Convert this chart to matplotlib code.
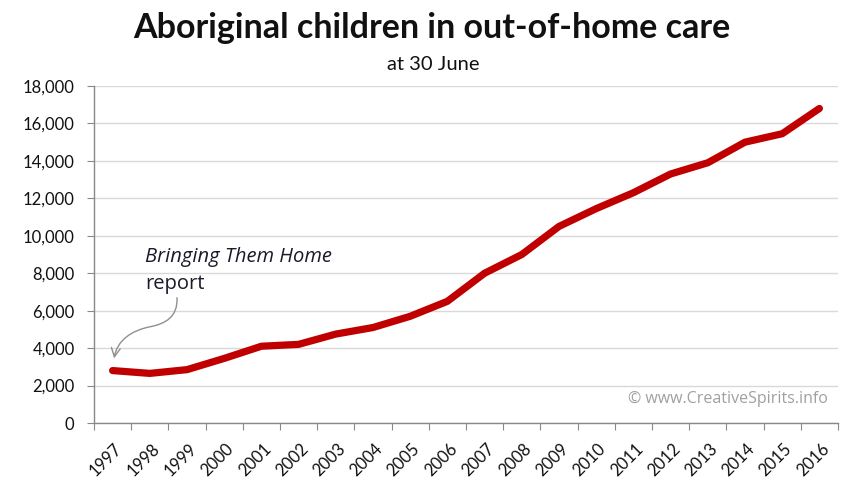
import matplotlib
matplotlib.use("Agg")
import matplotlib.pyplot as plt
from matplotlib.path import Path
from matplotlib.patches import FancyArrowPatch
from matplotlib.ticker import FuncFormatter, FixedLocator
from matplotlib.transforms import ScaledTranslation

years = ["1997", "1998", "1999", "2000", "2001", "2002", "2003", "2004", "2005", "2006",
         "2007", "2008", "2009", "2010", "2011", "2012", "2013", "2014", "2015", "2016"]
children = [2800, 2650, 2850, 3450, 4100, 4200, 4750, 5100, 5700, 6500,
            8000, 9000, 10500, 11450, 12300, 13300, 13900, 15000, 15450, 16800]
y_ticks = [0, 2000, 4000, 6000, 8000, 10000, 12000, 14000, 16000, 18000]

title = "Aboriginal children in out-of-home care"
subtitle = "at 30 June"
note_line1 = "Bringing Them Home"
note_line2 = "report"
credit = "© www.CreativeSpirits.info"

plt.rcParams['font.family'] = ['Lato', 'DejaVu Sans']

fig = plt.figure(figsize=(8.51, 4.91), dpi=100)
ax = fig.add_axes([94/851, 1-423/491, (838-94)/851, (423-86)/491])

x = list(range(len(years)))
ax.plot(x, children, color="#c00000", lw=5.2, solid_capstyle="round", solid_joinstyle="round", zorder=3)

ax.set_xlim(-0.5, len(years) - 0.5)
ax.set_ylim(y_ticks[0], y_ticks[-1])
ax.set_yticks(y_ticks)
ax.yaxis.set_major_formatter(FuncFormatter(lambda v, p: f"{int(v):,}"))
ax.grid(axis="y", color="#d9d9d9", lw=1)
ax.set_axisbelow(True)

# ticks at category boundaries, labels at centres
ax.xaxis.set_major_locator(FixedLocator([i - 0.5 for i in range(len(years) + 1)]))
ax.xaxis.set_major_formatter(FuncFormatter(lambda v, p: ""))
ax.xaxis.set_minor_locator(FixedLocator(x))
ax.set_xticklabels(years, minor=True, rotation=45, ha="right", va="top",
                   rotation_mode="anchor", fontsize=12, color="#111111")
ax.tick_params(axis="x", which="minor", length=0, pad=13)
ax.tick_params(axis="x", which="major", length=5, color="#888888", direction="out")
ax.tick_params(axis="y", length=5, color="#888888", direction="out", labelsize=12,
               labelcolor="#111111", pad=9)
shift = ScaledTranslation(1.5/100, 0, fig.dpi_scale_trans)
for lab in ax.get_xticklabels(minor=True):
    lab.set_transform(lab.get_transform() + shift)

for s in ["top", "right"]:
    ax.spines[s].set_visible(False)
for s in ["left", "bottom"]:
    ax.spines[s].set_color("#888888")
    ax.spines[s].set_linewidth(1)

fig.text(432/851, 1-28/491, title, ha="center", va="center", fontsize=24.5, fontweight="bold", color="#111111")
fig.text(433/851, 1-65/491, subtitle, ha="center", va="center", fontsize=14.5, color="#111111")

ax.text(0.88, 8880, note_line1, ha="left", va="center", fontsize=14.5, style="italic",
        family=["Open Sans", "DejaVu Sans"], color="#1a1a2a")
ax.text(0.88, 7440, note_line2, ha="left", va="center", fontsize=14.5,
        family=["Open Sans", "DejaVu Sans"], color="#1a1a2a")

verts = [(1.73, 6690), (1.76, 5650), (1.40, 5300), (1.03, 5150),
         (0.50, 4950), (0.12, 4400), (0.04, 3450)]
codes = [Path.MOVETO, Path.CURVE4, Path.CURVE4, Path.CURVE4, Path.CURVE4, Path.CURVE4, Path.CURVE4]
arrow = FancyArrowPatch(path=Path(verts, codes), arrowstyle="->", mutation_scale=16,
                        color="#909090", lw=1.0)
ax.add_patch(arrow)

ax.text(0.987, 0.07, credit, transform=ax.transAxes, ha="right", va="center",
        fontsize=11.5, color="#a0a0a0", family=["Open Sans", "DejaVu Sans"])

fig.savefig("out.png", dpi=100)
